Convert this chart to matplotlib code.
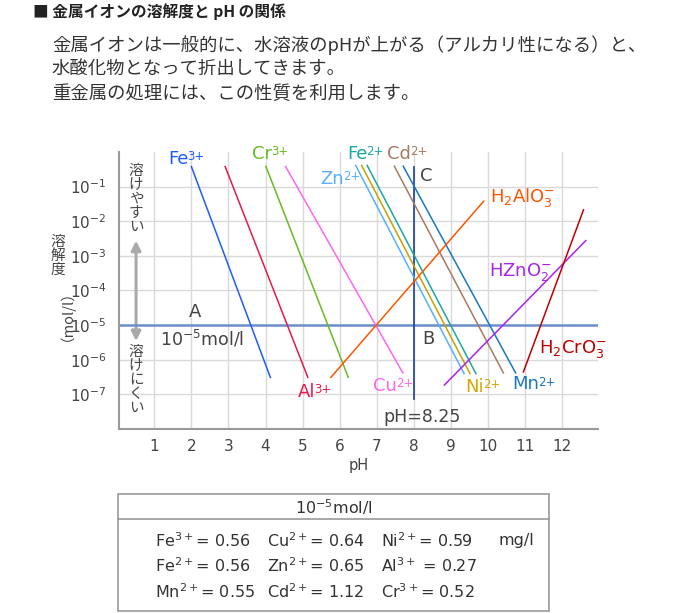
import matplotlib
matplotlib.use("Agg")
import matplotlib.pyplot as plt
import numpy as np
from matplotlib.patches import Rectangle
from matplotlib.lines import Line2D

plt.rcParams['font.family'] = ['DejaVu Sans', 'Noto Sans CJK JP']
plt.rcParams['mathtext.fontset'] = 'dejavusans'

W, H = 700, 613
JP = ['Noto Sans CJK JP', 'DejaVu Sans']

# precipitation lines: pH and log10(solubility mol/l) at both ends
ions = ['Fe3+', 'Al3+', 'Cr3+', 'Cu2+', 'Zn2+', 'Ni2+', 'Fe2+', 'Cd2+', 'Mn2+',
        'H2AlO3-', 'HZnO2-', 'H2CrO3-']
ph_start = [2.00, 2.91, 4.01, 4.54, 6.43, 6.59, 6.74, 7.47, 7.71, 5.76, 8.82, 10.95]
ph_end = [4.13, 5.14, 6.23, 7.70, 9.35, 9.51, 9.67, 10.41, 10.74, 9.88, 12.63, 12.57]
logc_start = [-0.42, -0.42, -0.42, -0.42, -0.39, -0.39, -0.39, -0.41, -0.41, -6.51, -6.73, -6.35]
logc_end = [-6.51, -6.51, -6.51, -6.38, -6.40, -6.40, -6.40, -6.38, -6.38, -1.42, -2.56, -1.67]
# label text split into base / superscript (anions use mathtext)
label_base = ['Fe', 'Al', 'Cr', 'Cu', 'Zn', 'Ni', 'Fe', 'Cd', 'Mn',
              'H$_2$AlO$_3^{-}$', 'HZnO$_2^{-}$', 'H$_2$CrO$_3^{-}$']
label_sup = ['3+', '3+', '3+', '2+', '2+', '2+', '2+', '2+', '2+', '', '', '']
colors = ['#1f5cff', '#e8184e', '#66bb22', '#ff66ee', '#55b0ff', '#c8a000',
          '#1aa8a0', '#a87a62', '#1878c0', '#ff5500', '#aa22ee', '#c00000']
label_colors = colors[:5] + ['#d4a800'] + colors[6:]
# label anchor (left, center) in pH / log10 units
label_pos = [(1.37, -0.19), (4.87, -6.93), (3.63, -0.05), (6.89, -6.76), (5.47, -0.77),
             (9.38, -6.78), (6.19, -0.05), (7.28, -0.05), (10.64, -6.71), (10.05, -1.31),
             (10.03, -3.47), (11.38, -5.68)]

limit_mol = 1e-5
ph_limit = 8.0
ph_ticks = list(range(1, 13))
log_ticks = [-1, -2, -3, -4, -5, -6, -7]

table_header = '10$^{-5}$mol/l'
table_rows = [['Fe$^{3+}$= 0.56', 'Cu$^{2+}$= 0.64', 'Ni$^{2+}$= 0.59'],
              ['Fe$^{2+}$= 0.56', 'Zn$^{2+}$= 0.65', 'Al$^{3+}$ = 0.27'],
              ['Mn$^{2+}$= 0.55', 'Cd$^{2+}$= 1.12', 'Cr$^{3+}$= 0.52']]
unit = 'mg/l'

fig = plt.figure(figsize=(W / 100, H / 100), dpi=100)


def fx(px):
    return px / W


def fy(py):
    return 1 - py / H


# header text
fig.text(fx(33), fy(12), '■ 金属イオンの溶解度と pH の関係', family=JP, fontsize=11.3,
         fontweight='bold', color='#222222', va='center', ha='left')
para = ['金属イオンは一般的に、水溶液のpHが上がる（アルカリ性になる）と、',
        '水酸化物となって折出してきます。',
        '重金属の処理には、この性質を利用します。']
for i, line in enumerate(para):
    fig.text(fx(52), fy(45 + 24.5 * i), line, family=JP, fontsize=13.2, color='#333333',
             va='center', ha='left')

ax = fig.add_axes([fx(119), fy(429), fx(598) - fx(119), fy(152) - fy(429)])
ax.set_yscale('log')
ax.set_xlim(0.05, 12.96)
ax.set_ylim(1e-8, 1e0)

for v in ph_ticks:
    ax.axvline(v, color='#d9d9d9', lw=1.0, zorder=0)
for v in log_ticks:
    ax.axhline(10.0 ** v, color='#d9d9d9', lw=1.0, zorder=0)

ax.axhline(limit_mol, color='#6d8ec8', lw=1.8, zorder=1)
ax.plot([ph_limit, ph_limit], [10 ** -0.42, 10 ** -7.14], color='#1a3fa0', lw=1.2, zorder=2)

for i in range(len(ions)):
    ax.plot([ph_start[i], ph_end[i]], [10 ** logc_start[i], 10 ** logc_end[i]],
            color=colors[i], lw=1.1, zorder=3)
    lx, ly = label_pos[i]
    t = ax.text(lx, 10 ** ly, label_base[i], color=label_colors[i], fontsize=13,
                ha='left', va='center')
    if label_sup[i]:
        ax.annotate(label_sup[i], xy=(1.0, 0.98), xycoords=t, xytext=(-0.5, 0),
                    textcoords='offset points', color=label_colors[i], fontsize=8.5,
                    ha='left', va='top')

ax.set_xticks(ph_ticks)
ax.set_xticklabels([str(v) for v in ph_ticks])
ax.set_yticks([10.0 ** v for v in log_ticks])
ax.set_yticklabels(['10$^{%d}$' % v for v in log_ticks])
ax.minorticks_off()
ax.tick_params(length=0, labelsize=11, labelcolor='#444444')
ax.tick_params(axis='x', pad=7)
ax.tick_params(axis='y', pad=9)
for s in ['top', 'right']:
    ax.spines[s].set_visible(False)
for s in ['left', 'bottom']:
    ax.spines[s].set_color('#999999')
    ax.spines[s].set_linewidth(1.5)
ax.set_xlabel('pH', fontsize=10.5, color='#444444', labelpad=3)

# annotations
ax.text(2.10, 10 ** -4.62, 'A', fontsize=13, color='#444444', ha='center', va='center')
ax.text(1.15, 10 ** -5.40, '10$^{-5}$mol/l', fontsize=12.5, color='#444444',
        ha='left', va='center')
ax.text(8.21, 10 ** -5.41, 'B', fontsize=13, color='#444444', ha='left', va='center')
ax.text(8.16, 10 ** -0.68, 'C', fontsize=13, color='#444444', ha='left', va='center')
ax.text(7.17, 10 ** -7.65, 'pH=8.25', fontsize=12.5, color='#444444', ha='left', va='center')

ax.annotate('', xy=(0.51, 10 ** -2.56), xytext=(0.51, 10 ** -5.46),
            arrowprops=dict(arrowstyle='<|-|>', color='#aaaaaa', lw=2.2,
                            mutation_scale=14, shrinkA=0, shrinkB=0), zorder=0)
ax.text(0.51, 10 ** -1.35, '溶\nけ\nや\nす\nい', family=JP, fontsize=10.5, color='#444444',
        ha='center', va='center', linespacing=1.0)
ax.text(0.51, 10 ** -6.59, '溶\nけ\nに\nく\nい', family=JP, fontsize=10.5, color='#444444',
        ha='center', va='center', linespacing=1.0)

fig.text(fx(58), fy(256), '溶\n解\n度', family=JP, fontsize=10.5, color='#444444',
         ha='center', va='center', linespacing=1.0)
fig.text(fx(59), fy(308), '（mol/l）', family=JP, fontsize=10.5, color='#444444',
         ha='center', va='center', rotation=90)

# table
fig.add_artist(Rectangle((fx(118), fy(611)), fx(549) - fx(118), fy(494) - fy(611),
                         transform=fig.transFigure, fill=False, ec='#999999', lw=1.2))
fig.add_artist(Line2D([fx(118), fx(549)], [fy(519), fy(519)], transform=fig.transFigure,
                      color='#999999', lw=1.2))
fig.text(fx(333.5), fy(507), table_header, fontsize=11.5, color='#333333',
         ha='center', va='center')
col_x = [155, 267, 381]
row_y = [541, 566, 592]
for r, row in enumerate(table_rows):
    for c, cell in enumerate(row):
        fig.text(fx(col_x[c]), fy(row_y[r]), cell, fontsize=11.5, color='#333333',
                 ha='left', va='center')
fig.text(fx(498), fy(row_y[0]), unit, fontsize=11.5, color='#333333', ha='left', va='center')

fig.savefig('out.png', dpi=100)
